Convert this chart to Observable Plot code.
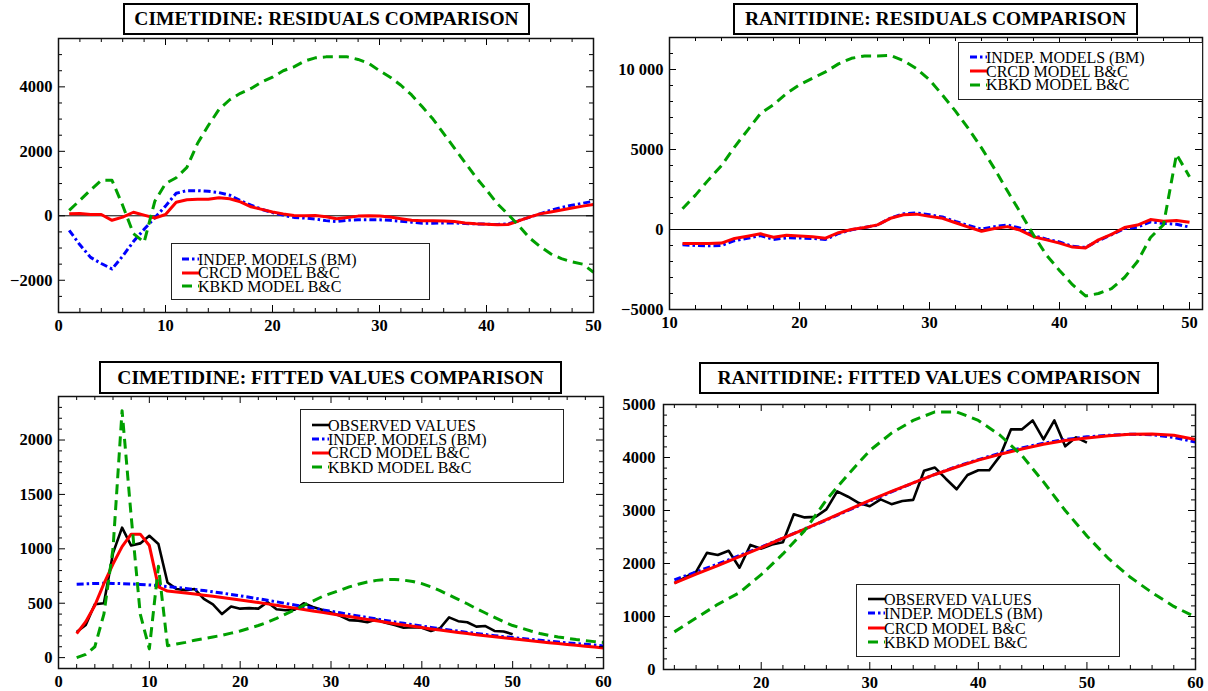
<!DOCTYPE html>
<html><head><meta charset="utf-8">
<script src="https://cdn.jsdelivr.net/npm/d3@7"></script>
<script src="https://cdn.jsdelivr.net/npm/@observablehq/plot@0.6"></script>
<style>
body{margin:0;background:#fff;width:1208px;height:691px;position:relative;overflow:hidden;font-family:"Liberation Serif","Times New Roman",serif;}
.panel{position:absolute;}
.title{position:absolute;border:2px solid #000;background:#fff;font-weight:bold;font-size:19.5px;text-align:center;box-sizing:border-box;white-space:nowrap;display:flex;align-items:center;justify-content:center;color:#000;}
.legend{position:absolute;border:1.5px solid #222;background:#fff;box-sizing:border-box;}
.legend .lab{position:absolute;font-size:16px;line-height:13px;height:13px;white-space:nowrap;color:#000;}
.legend svg{position:absolute;}
</style></head><body>
<script>
// ---------- data ----------
// Cimetidine residuals (t = 1..50)
const cimResT = [1,2,3,4,5,6,7,8,9,10,11,12,13,14,15,16,17,18,19,20,21,22,23,24,25,26,27,28,29,30,31,32,33,34,35,36,37,38,39,40,41,42,43,44,45,46,47,48,49,50];
const cimResIndep = [-450,-900,-1290,-1480,-1650,-1250,-800,-420,-60,300,700,780,780,760,720,640,470,330,200,100,20,-50,-70,-100,-150,-180,-140,-120,-120,-125,-140,-170,-200,-230,-230,-220,-220,-240,-250,-260,-270,-250,-150,-50,60,170,260,330,390,450];
const cimResCrcd = [60,70,40,40,-140,-40,110,20,-70,40,420,500,510,510,560,530,430,280,200,120,60,10,0,10,-30,-90,-50,-10,0,-10,-40,-90,-140,-150,-150,-160,-180,-220,-250,-260,-280,-270,-160,-40,60,120,180,240,300,350];
const cimResKbkd = [170,480,800,1100,1100,320,-550,-820,450,1000,1180,1500,2250,2800,3300,3600,3800,3950,4150,4300,4500,4620,4800,4900,4930,4930,4930,4850,4730,4500,4300,4050,3750,3380,3000,2550,2100,1650,1200,800,380,50,-300,-680,-950,-1180,-1330,-1430,-1500,-1750];

// Ranitidine residuals (t = 11..50)
const ranResT = [11,12,13,14,15,16,17,18,19,20,21,22,23,24,25,26,27,28,29,30,31,32,33,34,35,36,37,38,39,40,41,42,43,44,45,46,47,48,49,50];
const ranResIndep = [-950,-1000,-1020,-1000,-700,-550,-380,-620,-520,-530,-560,-620,-250,-20,120,280,720,980,1040,920,780,500,250,20,180,280,80,-380,-600,-780,-1050,-1120,-700,-320,60,150,480,380,330,150];
const ranResCrcd = [-880,-880,-880,-850,-560,-420,-270,-480,-360,-400,-450,-540,-200,0,130,290,700,920,960,820,700,420,150,-110,60,180,-50,-450,-650,-850,-1100,-1150,-650,-300,120,280,620,520,560,450];
const ranResKbkd = [1300,2150,3100,4000,5150,6200,7250,7800,8500,9050,9450,9850,10350,10700,10850,10850,10880,10550,10050,9350,8400,7400,6300,5100,3800,2400,1050,-350,-1600,-2560,-3450,-4150,-4000,-3700,-3000,-2000,-500,300,4700,3300];

// Cimetidine fitted values
const cimObsT = [2,3,4,5,6,7,8,9,10,11,12,13,14,15,16,17,18,19,20,21,22,23,24,25,26,27,28,29,30,31,32,33,34,35,36,37,38,39,40,41,42,43,44,45,46,47,48,49,50];
const cimObs = [235,300,490,500,960,1195,1030,1050,1120,1045,690,630,620,630,540,490,400,470,450,455,450,510,445,435,440,500,465,440,415,385,345,340,325,350,320,300,275,280,275,245,270,370,335,325,285,290,245,240,215];
const cimFitT = [2,3,4,5,6,7,8,9,10,11,12,13,14,15,16,17,18,19,20,21,22,23,24,25,26,27,28,29,30,31,32,33,34,35,36,37,38,39,40,41,42,43,44,45,46,47,48,49,50,51,52,53,54,55,56,57,58,59,60];
const cimFitIndep = [675,678,681,683,682,680,677,673,668,661,653,645,636,626,616,605,593,581,568,555,541,527,513,498,484,469,455,440,426,412,397,383,369,355,342,328,315,302,290,278,266,254,243,232,222,212,202,193,184,175,167,159,151,143,136,129,122,115,108];
const cimFitCrcd = [220,330,480,680,860,1020,1135,1135,1030,650,612,603,594,584,574,564,553,542,530,518,506,494,481,468,455,442,429,416,403,390,377,364,351,338,325,312,300,288,276,264,253,242,231,221,211,201,191,182,173,164,155,146,137,129,121,113,105,97,89];
const cimFitKbkd = [0,30,100,400,1000,2270,1300,400,80,840,110,125,140,160,175,190,205,225,245,270,295,325,360,400,440,480,520,560,590,620,650,675,695,710,718,718,712,700,680,650,615,575,535,495,450,410,370,330,295,270,245,222,205,190,178,166,156,147,140];

// Ranitidine fitted values
const ranObsT = [12,13,14,15,16,17,18,19,20,21,22,23,24,25,26,27,28,29,30,31,32,33,34,35,36,37,38,39,40,41,42,43,44,45,46,47,48,49,50];
const ranObs = [1630,1740,1840,2200,2160,2240,1920,2350,2280,2360,2400,2930,2870,2880,3020,3360,3260,3140,3080,3210,3120,3180,3200,3750,3810,3600,3400,3670,3760,3760,4030,4530,4530,4700,4340,4700,4210,4380,4280];
const ranFitT = [12,14,16,18,20,22,24,26,28,30,32,34,36,38,40,42,44,46,48,50,52,54,56,58,60];
const ranFitIndep = [1690,1840,1990,2150,2310,2480,2650,2820,3000,3180,3350,3520,3680,3830,3960,4080,4180,4270,4340,4390,4420,4440,4430,4380,4290];
const ranFitCrcd = [1630,1800,1960,2130,2300,2480,2650,2830,3010,3190,3360,3520,3680,3820,3950,4060,4160,4250,4320,4370,4410,4440,4445,4420,4340];
const ranFitKbkd = [710,970,1230,1450,1790,2180,2620,3200,3680,4130,4460,4700,4860,4860,4700,4420,4040,3540,3000,2520,2090,1740,1450,1190,990];

// labels
const lblObs = "OBSERVED VALUES", lblIndep = "INDEP. MODELS (BM)", lblCrcd = "CRCD MODEL B&C", lblKbkd = "KBKD MODEL B&C";
const titles = ["CIMETIDINE: RESIDUALS COMPARISON","RANITIDINE: RESIDUALS COMPARISON","CIMETIDINE: FITTED VALUES COMPARISON","RANITIDINE: FITTED VALUES COMPARISON"];
const p1XTicks = [0,10,20,30,40,50], p1YTicks = [-2000,0,2000,4000];
const p2XTicks = [10,20,30,40,50], p2YTicks = [-5000,0,5000,10000];
const p3XTicks = [0,10,20,30,40,50,60], p3YTicks = [0,500,1000,1500,2000];
const p4XTicks = [20,30,40,50,60], p4YTicks = [0,1000,2000,3000,4000,5000];

// ---------- styles ----------
const ST = {
  obs:   {color:"#000000", width:2.6, dash:null},
  indep: {color:"#0000ff", width:3, dash:"7,3,2.5,3"},
  crcd:  {color:"#ff0000", width:3, dash:null},
  kbkd:  {color:"#00a000", width:3, dash:"10,6"}
};

const fmt = d => (d < 0 ? "\u2212" : "") + String(Math.abs(d)).replace(/^(\d{2})(\d{3})$/, "$1 $2");
const FONT = "'Liberation Serif','Times New Roman',serif";

function makePanel(c) {
  const fw = c.width - c.ml - c.mr, fh = c.height - c.mt - c.mb;
  const marks = [];
  if (c.zero) marks.push(Plot.ruleY([0], {stroke:"#000", strokeWidth:1}));
  for (const s of c.series) {
    const rows = s.x.map((x, i) => ({x, y: s.y[i]}));
    marks.push(Plot.line(rows, {x:"x", y:"y", stroke:s.st.color, strokeWidth:s.st.width,
      strokeDasharray:s.st.dash || undefined, strokeLinejoin:"round", strokeLinecap:"butt"}));
  }
  const tk = {stroke:"#000", strokeOpacity:1, strokeWidth:1};
  const major = 7, minor = 4;
  marks.push(Plot.gridX(c.xMajor, {...tk, insetTop: fh - major}));
  marks.push(Plot.gridX(c.xMajor, {...tk, insetBottom: fh - major}));
  marks.push(Plot.gridX(c.xMinor, {...tk, insetTop: fh - minor}));
  marks.push(Plot.gridX(c.xMinor, {...tk, insetBottom: fh - minor}));
  marks.push(Plot.gridY(c.yMajor, {...tk, insetRight: fw - major}));
  marks.push(Plot.gridY(c.yMajor, {...tk, insetLeft: fw - major}));
  marks.push(Plot.gridY(c.yMinor, {...tk, insetRight: fw - minor}));
  marks.push(Plot.gridY(c.yMinor, {...tk, insetLeft: fw - minor}));
  marks.push(Plot.frame({stroke:"#111", strokeWidth:1.5}));
  const txt = {fontSize:16.5, fontWeight:"bold", fontFamily:FONT, fill:"#000"};
  marks.push(Plot.axisX(c.xMajor, {tickSize:0, tickPadding:7, tickFormat:fmt, label:null, ...txt}));
  marks.push(Plot.axisY(c.yMajor, {tickSize:0, tickPadding:c.yPad, tickFormat:fmt, label:null, ...txt}));
  const svg = Plot.plot({
    width:c.width, height:c.height, marginLeft:c.ml, marginRight:c.mr, marginTop:c.mt, marginBottom:c.mb,
    x:{domain:c.xDomain}, y:{domain:c.yDomain},
    style:{fontFamily:FONT, fontSize:"16.5px", fontWeight:"bold", color:"#000", background:"transparent", overflow:"visible"},
    marks
  });
  const div = document.createElement("div");
  div.className = "panel";
  div.style.left = c.left + "px"; div.style.top = c.top + "px";
  div.appendChild(svg);
  document.body.appendChild(div);
}

const minorTicks = (a, b, step, majors) => d3.range(a, b + step / 2, step).filter(v => !majors.includes(v));

makePanel({left:0, top:30, width:610, height:310, ml:58, mr:17, mt:8, mb:28, yPad:6,
  xDomain:[0,50], yDomain:[-3000,5500],
  xMajor:p1XTicks, xMinor:minorTicks(0,50,2,p1XTicks), yMajor:p1YTicks, yMinor:minorTicks(-3000,5500,500,p1YTicks),
  zero:true,
  series:[{x:cimResT,y:cimResIndep,st:ST.indep},{x:cimResT,y:cimResCrcd,st:ST.crcd},{x:cimResT,y:cimResKbkd,st:ST.kbkd}]});

makePanel({left:610, top:30, width:598, height:310, ml:59, mr:6, mt:7, mb:31, yPad:6,
  xDomain:[10,51], yDomain:[-5000,12000],
  xMajor:p2XTicks, xMinor:minorTicks(10,50,2,p2XTicks), yMajor:p2YTicks, yMinor:minorTicks(-5000,12000,1000,p2YTicks),
  zero:true,
  series:[{x:ranResT,y:ranResIndep,st:ST.indep},{x:ranResT,y:ranResCrcd,st:ST.crcd},{x:ranResT,y:ranResKbkd,st:ST.kbkd}]});

makePanel({left:0, top:380, width:610, height:311, ml:58, mr:7, mt:16, mb:23, yPad:6,
  xDomain:[0,60], yDomain:[-100,2400],
  xMajor:p3XTicks, xMinor:minorTicks(0,60,2,p3XTicks), yMajor:p3YTicks, yMinor:minorTicks(-100,2400,100,p3YTicks),
  zero:false,
  series:[{x:cimObsT,y:cimObs,st:ST.obs},{x:cimFitT,y:cimFitIndep,st:ST.indep},{x:cimFitT,y:cimFitCrcd,st:ST.crcd},{x:cimFitT,y:cimFitKbkd,st:ST.kbkd}]});

makePanel({left:610, top:380, width:598, height:311, ml:53, mr:13, mt:24, mb:22, yPad:8,
  xDomain:[11,60], yDomain:[0,5000],
  xMajor:p4XTicks, xMinor:minorTicks(12,60,2,p4XTicks), yMajor:p4YTicks, yMinor:minorTicks(0,5000,200,p4YTicks),
  zero:false,
  series:[{x:ranObsT,y:ranObs,st:ST.obs},{x:ranFitT,y:ranFitIndep,st:ST.indep},{x:ranFitT,y:ranFitCrcd,st:ST.crcd},{x:ranFitT,y:ranFitKbkd,st:ST.kbkd}]});

// ---------- titles ----------
const titleBoxes = [[123,3,407,32],[733,3,405,32],[99,361,463,33],[699,362,460,32]];
titles.forEach((t, i) => {
  const [l, tp, w, h] = titleBoxes[i];
  const d = document.createElement("div");
  d.className = "title";
  Object.assign(d.style, {left:l+"px", top:tp+"px", width:w+"px", height:h+"px"});
  d.textContent = t;
  document.body.appendChild(d);
});

// ---------- legends ----------
function legend(box, rows, items, sampleLeft) {
  const [l, t, w, h] = box;
  const d = document.createElement("div");
  d.className = "legend";
  Object.assign(d.style, {left:l+"px", top:t+"px", width:w+"px", height:h+"px"});
  items.forEach((it, i) => {
    const cy = rows[i];
    const s = d3.create("svg").attr("width", 17).attr("height", 8)
      .style("left", sampleLeft + "px").style("top", (cy - 4) + "px");
    s.append("line").attr("x1", 0).attr("x2", 17).attr("y1", 4).attr("y2", 4)
      .attr("stroke", it.st.color).attr("stroke-width", it.st.width)
      .attr("stroke-dasharray", it.st.dash);
    d.appendChild(s.node());
    const sp = document.createElement("span");
    sp.className = "lab";
    sp.style.left = (sampleLeft + 16) + "px";
    sp.style.top = (cy - 6.5) + "px";
    sp.textContent = it.label;
    d.appendChild(sp);
  });
  document.body.appendChild(d);
}
const three = [{label:lblIndep, st:ST.indep},{label:lblCrcd, st:ST.crcd},{label:lblKbkd, st:ST.kbkd}];
const four = [{label:lblObs, st:ST.obs}, ...three];
legend([171,243,259,57], [15,28.7,42], three, 10);
legend([958,42,245,58], [14,28,41.6], three, 11);
legend([300,409,264,74], [15,29,42.7,57], four, 11);
legend([856,584,264,73], [14,28,43,57], four, 11);
</script>
</body></html>
